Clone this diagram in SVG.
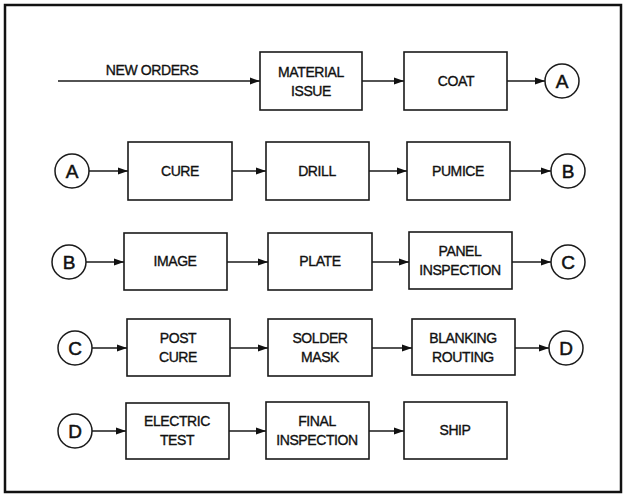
<svg xmlns="http://www.w3.org/2000/svg" width="626" height="495" viewBox="0 0 626 495">
<style>
.box{fill:#fff;stroke:#1a1a1a;stroke-width:1.6}
.circ{fill:#fff;stroke:#1a1a1a;stroke-width:1.5}
.t{font-family:"Liberation Sans",Arial,sans-serif;font-size:14px;fill:#111;stroke:#111;stroke-width:0.35;text-anchor:middle;letter-spacing:-0.4px}
.c{font-family:"Liberation Sans",Arial,sans-serif;font-size:19px;fill:#111;stroke:#111;stroke-width:0.5;text-anchor:middle}
.ln{stroke:#1a1a1a;stroke-width:1.5;fill:none;marker-end:url(#ah)}
</style>
<defs>
<marker id="ah" viewBox="0 0 10 8" refX="10" refY="4" markerWidth="10" markerHeight="8" markerUnits="userSpaceOnUse" orient="auto">
<path d="M0,0.6 L10,4 L0,7.4 Z" fill="#111"/>
</marker>
</defs>
<rect x="0" y="0" width="626" height="495" fill="#fff"/>
<rect id="frame" x="5" y="5" width="616" height="487" fill="none" stroke="#111" stroke-width="2.5"/>

<g id="connectors">
<line class="ln" x1="58" y1="81" x2="260" y2="81"/>
<line class="ln" x1="362" y1="81" x2="404" y2="81"/>
<line class="ln" x1="507" y1="81" x2="545" y2="81"/>

<line class="ln" x1="89" y1="171" x2="128" y2="171"/>
<line class="ln" x1="232" y1="171" x2="266" y2="171"/>
<line class="ln" x1="369" y1="171" x2="407" y2="171"/>
<line class="ln" x1="510" y1="171" x2="551" y2="171"/>

<line class="ln" x1="86" y1="262" x2="124" y2="262"/>
<line class="ln" x1="227" y1="262" x2="268" y2="262"/>
<line class="ln" x1="372" y1="262" x2="409" y2="262"/>
<line class="ln" x1="512" y1="262" x2="551" y2="262"/>

<line class="ln" x1="92" y1="348" x2="127" y2="348"/>
<line class="ln" x1="230" y1="348" x2="268" y2="348"/>
<line class="ln" x1="372" y1="348" x2="412" y2="348"/>
<line class="ln" x1="515" y1="348" x2="549" y2="348"/>

<line class="ln" x1="92" y1="431" x2="126" y2="431"/>
<line class="ln" x1="229" y1="431" x2="266" y2="431"/>
<line class="ln" x1="369" y1="431" x2="404" y2="431"/>
</g>

<g id="new-orders-label"><text class="t" x="152" y="75">NEW ORDERS</text></g>

<g id="material-issue"><rect class="box" x="260" y="52" width="102" height="58"/><text class="t" x="311" y="77">MATERIAL</text><text class="t" x="311" y="96">ISSUE</text></g>
<g id="coat"><rect class="box" x="404" y="52" width="103" height="58"/><text class="t" x="456" y="86">COAT</text></g>
<g id="conn-a-out"><circle class="circ" cx="562" cy="81" r="17"/><text class="c" x="562" y="88">A</text></g>

<g id="conn-a-in"><circle class="circ" cx="72" cy="171" r="17"/><text class="c" x="72" y="178">A</text></g>
<g id="cure"><rect class="box" x="128" y="142" width="104" height="58"/><text class="t" x="180" y="176">CURE</text></g>
<g id="drill"><rect class="box" x="266" y="142" width="103" height="58"/><text class="t" x="317" y="176">DRILL</text></g>
<g id="pumice"><rect class="box" x="407" y="142" width="103" height="58"/><text class="t" x="458" y="176">PUMICE</text></g>
<g id="conn-b-out"><circle class="circ" cx="568" cy="171" r="17"/><text class="c" x="568" y="178">B</text></g>

<g id="conn-b-in"><circle class="circ" cx="69" cy="262" r="17"/><text class="c" x="69" y="269">B</text></g>
<g id="image"><rect class="box" x="124" y="233" width="103" height="57"/><text class="t" x="175" y="266">IMAGE</text></g>
<g id="plate"><rect class="box" x="268" y="233" width="104" height="57"/><text class="t" x="320" y="266">PLATE</text></g>
<g id="panel-inspection"><rect class="box" x="409" y="232" width="103" height="57"/><text class="t" x="460" y="256">PANEL</text><text class="t" x="460" y="275">INSPECTION</text></g>
<g id="conn-c-out"><circle class="circ" cx="568" cy="262" r="17"/><text class="c" x="568" y="269">C</text></g>

<g id="conn-c-in"><circle class="circ" cx="75" cy="348" r="17"/><text class="c" x="75" y="355">C</text></g>
<g id="post-cure"><rect class="box" x="127" y="319" width="103" height="57"/><text class="t" x="178" y="343">POST</text><text class="t" x="178" y="362">CURE</text></g>
<g id="solder-mask"><rect class="box" x="268" y="319" width="104" height="57"/><text class="t" x="320" y="343">SOLDER</text><text class="t" x="320" y="362">MASK</text></g>
<g id="blanking-routing"><rect class="box" x="412" y="319" width="103" height="56"/><text class="t" x="463" y="343">BLANKING</text><text class="t" x="463" y="362">ROUTING</text></g>
<g id="conn-d-out"><circle class="circ" cx="566" cy="348" r="17"/><text class="c" x="566" y="355">D</text></g>

<g id="conn-d-in"><circle class="circ" cx="75" cy="431" r="17"/><text class="c" x="75" y="438">D</text></g>
<g id="electric-test"><rect class="box" x="126" y="403" width="103" height="56"/><text class="t" x="177" y="426">ELECTRIC</text><text class="t" x="177" y="445">TEST</text></g>
<g id="final-inspection"><rect class="box" x="266" y="402" width="103" height="57"/><text class="t" x="317" y="426">FINAL</text><text class="t" x="317" y="445">INSPECTION</text></g>
<g id="ship"><rect class="box" x="404" y="402" width="103" height="57"/><text class="t" x="455" y="435">SHIP</text></g>
</svg>
